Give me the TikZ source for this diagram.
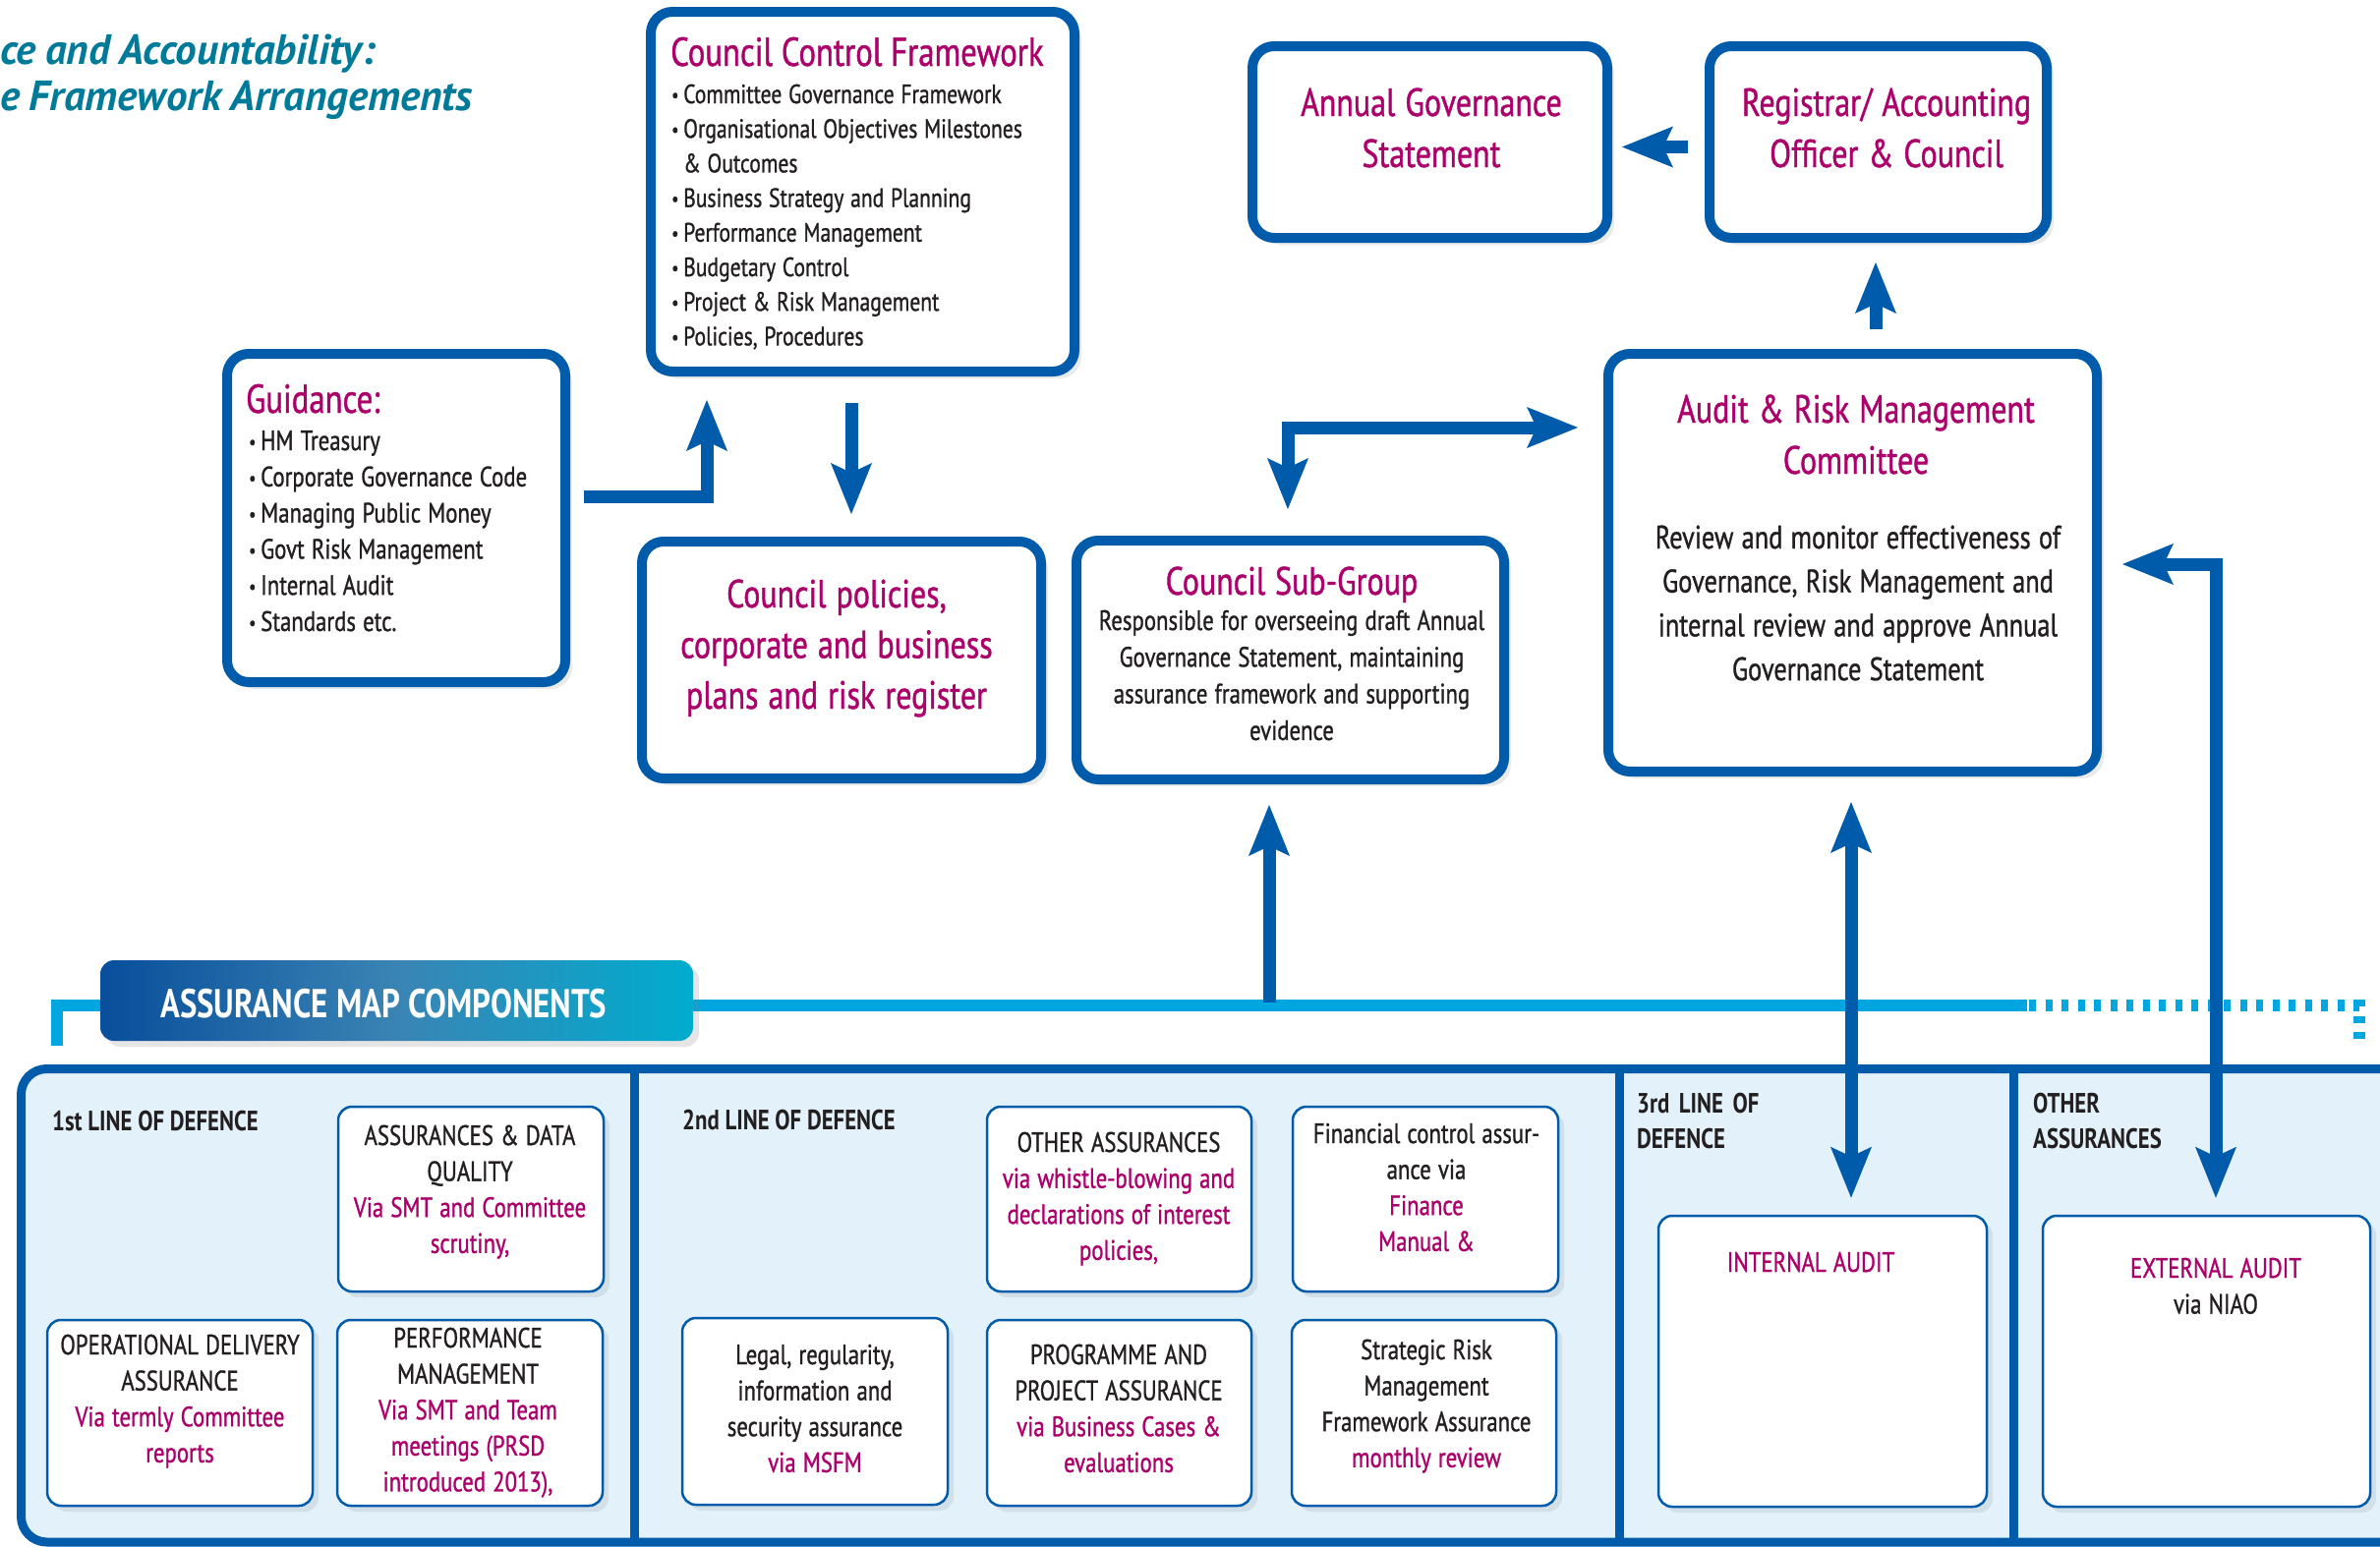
\documentclass[tikz,border=0pt]{standalone}
\usepackage{fontspec}
\setmainfont{PT Sans}[FakeStretch=0.8,UprightFeatures={FakeBold=1.0}]
\newfontfamily\titlefont{PT Sans}[WordSpace=0.85]
\usetikzlibrary{arrows.meta,calc,shadows}
\definecolor{boxblue}{RGB}{0,91,170}
\definecolor{mag}{RGB}{172,0,106}
\definecolor{ink}{RGB}{35,31,32}
\definecolor{skyblue}{RGB}{0,166,224}
\definecolor{panelfill}{RGB}{227,242,250}
\definecolor{titleteal}{RGB}{0,122,153}
\definecolor{banL}{RGB}{8,78,155}
\definecolor{banM}{RGB}{58,132,180}
\definecolor{banR}{RGB}{0,172,206}
\newcommand\bul{\makebox[12pt][l]{\raisebox{1.5pt}{\fontsize{20}{20}\selectfont\textbullet}}}
\newcommand\tsp{\spaceskip=0.25em\relax\xspaceskip=0.28em\relax}
\begin{document}
\begin{tikzpicture}[x=1pt,y=-1pt,
  bigbox/.style={draw=boxblue,line width=10pt,rounded corners=22pt,fill=white,inner sep=0pt,
    drop shadow={shadow xshift=7pt,shadow yshift=-7pt,opacity=0.16}},
  smallbox/.style={draw=boxblue,line width=2.5pt,rounded corners=14pt,fill=white,inner sep=0pt,
    drop shadow={shadow xshift=6pt,shadow yshift=-6pt,opacity=0.16}},
  arr/.style={draw=boxblue,line width=13pt,-{Stealth[length=52pt,width=42pt,inset=10pt,line width=0pt]}},
  twoarr/.style={draw=boxblue,line width=13pt,{Stealth[length=52pt,width=42pt,inset=10pt,line width=0pt]}-{Stealth[length=52pt,width=42pt,inset=10pt,line width=0pt]}},
  skyln/.style={draw=skyblue,line width=12pt},
  divider/.style={draw=boxblue,line width=9pt},
  ttl/.style={text=mag,font=\fontsize{40}{52}\selectfont,align=center,anchor=base,inner sep=0pt},
  bodytxt/.style={text=ink,align=center,anchor=base,inner sep=0pt},
  smalltxt/.style={text=ink,align=center,anchor=base,inner sep=0pt,font=\fontsize{28.5}{36.6}\selectfont},
  hdr/.style={text=ink,align=left,anchor=base west,inner sep=0pt,font=\fontsize{28.5}{36}\selectfont\bfseries}
]
\useasboundingbox (0,0) rectangle (2421,1574);
\clip (0,0) rectangle (2421,1574);
\fill[white] (0,0) rectangle (2421,1574);

% title
\node[anchor=base west,inner sep=0pt,text=titleteal,font=\fontsize{43}{47}\titlefont\bfseries\itshape] (t1) at (0,65) {ce and Accountability:};
\node[anchor=base west,inner sep=0pt,text=titleteal,font=\fontsize{43}{47}\titlefont\bfseries\itshape] (t2) at (0,112) {e Framework Arrangements};

% upper boxes
\node[bigbox,minimum width=431pt,minimum height=366pt] (ccf) at (877.5,195) {};
\node[bigbox,minimum width=361pt,minimum height=195pt] (ann) at (1454.5,144.5) {};
\node[bigbox,minimum width=343pt,minimum height=195pt] (reg) at (1910.5,144.5) {};
\node[bigbox,minimum width=497pt,minimum height=425pt] (aud) at (1884.5,572.5) {};
\node[bigbox,minimum width=435pt,minimum height=243pt] (sub) at (1312.5,671.5) {};
\node[bigbox,minimum width=406pt,minimum height=241pt] (pol) at (856,671.5) {};
\node[bigbox,minimum width=344pt,minimum height=334pt] (guid) at (403,527) {};

% texts upper
\node[anchor=base west,inner sep=0pt,text=mag,font=\fontsize{41}{42}\selectfont] (ccfT) at (682,67) {Council Control Framework};
\node[anchor=base west,inner sep=0pt,text=ink,text width=400pt,align=left,font=\fontsize{27}{35.2}\selectfont] (ccfL) at (683,105)
 {\tsp\bul Committee Governance Framework\\
  \bul Organisational Objectives Milestones\\
  \hspace*{12pt}\& Outcomes\\
  \bul Business Strategy and Planning\\
  \bul Performance Management\\
  \bul Budgetary Control\\
  \bul Project \& Risk Management\\
  \bul Policies, Procedures};
\node[ttl,text width=350pt] (annT) at (1456,118) {\tsp Annual Governance\\Statement};
\node[ttl,text width=335pt] (regT) at (1919,118) {\tsp Registrar/ Accounting\\Officer \& Council};
\node[ttl,text width=480pt] (audT) at (1888,430) {\tsp Audit \& Risk Management\\Committee};
\node[bodytxt,text width=480pt,font=\fontsize{33}{44.7}\selectfont] (audB) at (1890,558)
 {\tsp Review and monitor effectiveness of\\Governance, Risk Management and\\internal review and approve Annual\\Governance Statement};
\node[ttl,text width=420pt] (subT) at (1314,605) {\tsp Council Sub-Group};
\node[bodytxt,text width=425pt,font=\fontsize{28.5}{37.3}\selectfont] (subB) at (1314,641)
 {\tsp Responsible for overseeing draft Annual\\Governance Statement, maintaining\\assurance framework and supporting\\evidence};
\node[ttl,text width=395pt,font=\fontsize{40}{51.5}\selectfont] (polT) at (851,618) {\tsp Council policies,\\corporate and business\\plans and risk register};
\node[anchor=base west,inner sep=0pt,text=mag,font=\fontsize{41}{42}\selectfont] (guidT) at (250,420) {Guidance:};
\node[anchor=base west,inner sep=0pt,text=ink,text width=320pt,align=left,font=\fontsize{28.5}{36.8}\selectfont] (guidL) at (253,458)
 {\tsp\bul HM Treasury\\
  \bul Corporate Governance Code\\
  \bul Managing Public Money\\
  \bul Govt Risk Management\\
  \bul Internal Audit\\
  \bul Standards etc.};

% assurance line and banner
\draw[skyln] (58,1064) -- (58,1023) -- (2062,1023);
\draw[skyln,dash pattern=on 7pt off 9.5pt] (2064,1023) -- (2400,1023) -- (2400,1066);
\node[minimum width=603pt,minimum height=82pt,rounded corners=14pt,inner sep=0pt,
  left color=banL,right color=banR,middle color=banM,
  drop shadow={shadow xshift=6pt,shadow yshift=-6pt,opacity=0.2}] (ban) at (403.5,1018) {};
\node[anchor=base west,inner sep=0pt,text=white,font=\fontsize{41}{44}\selectfont\bfseries] (banT) at (163,1035) {ASSURANCE MAP COMPONENTS};

% panel
\node[draw=boxblue,fill=panelfill,line width=9pt,rounded corners=26pt,inner sep=0pt,
  minimum width=2428.5pt,minimum height=481.5pt] (panel) at (1235.75,1328.25) {};
\draw[divider] (645,1087.5) -- (645,1569);
\draw[divider] (1647,1087.5) -- (1647,1569);
\draw[divider] (2048,1087.5) -- (2048,1569);

\node[hdr] (h1) at (53,1150) {1st LINE OF DEFENCE};
\node[hdr] (h2) at (694,1149) {2nd LINE OF DEFENCE};
\node[hdr,text width=220pt] (h3) at (1665,1132) {3rd LINE OF\\DEFENCE};
\node[hdr,text width=220pt] (h4) at (2068,1132) {OTHER\\ASSURANCES};

% small boxes
\node[smallbox,minimum width=270pt,minimum height=188pt] (adq) at (479,1220) {};
\node[smallbox,minimum width=270pt,minimum height=189pt] (odq) at (183,1437.5) {};
\node[smallbox,minimum width=270pt,minimum height=189pt] (perf) at (478,1437.5) {};
\node[smallbox,minimum width=269pt,minimum height=188pt] (oth) at (1138.5,1220) {};
\node[smallbox,minimum width=270pt,minimum height=188pt] (fin) at (1450,1220) {};
\node[smallbox,minimum width=270pt,minimum height=190pt] (leg) at (829,1436) {};
\node[smallbox,minimum width=269pt,minimum height=189pt] (prog) at (1138.5,1437.5) {};
\node[smallbox,minimum width=269pt,minimum height=189pt] (strat) at (1448.5,1437.5) {};
\node[smallbox,minimum width=334pt,minimum height=296pt] (ia) at (1854,1385) {};
\node[smallbox,minimum width=333pt,minimum height=296pt] (ea) at (2244.5,1385) {};

\node[smalltxt,text width=268pt] (adqT) at (478,1165) {\tsp ASSURANCES \& DATA\\QUALITY\\\color{mag}Via SMT and Committee\\scrutiny,};
\node[smalltxt,text width=268pt] (odqT) at (183,1378) {\tsp OPERATIONAL DELIVERY\\ASSURANCE\\\color{mag}Via termly Committee\\reports};
\node[smalltxt,text width=268pt] (perfT) at (476,1371) {\tsp PERFORMANCE\\MANAGEMENT\\\color{mag}Via SMT and Team\\meetings (PRSD\\introduced 2013),};
\node[smalltxt,text width=268pt] (othT) at (1138,1172) {\tsp OTHER ASSURANCES\\\color{mag}via whistle-blowing and\\declarations of interest\\policies,};
\node[smalltxt,text width=268pt] (finT) at (1451,1163) {\tsp Financial control assur-\\ance via\\\color{mag}Finance\\Manual \&};
\node[smalltxt,text width=268pt] (legT) at (829,1388) {\tsp Legal, regularity,\\information and\\security assurance\\\color{mag}via MSFM};
\node[smalltxt,text width=268pt] (progT) at (1138,1388) {\tsp PROGRAMME AND\\PROJECT ASSURANCE\\\color{mag}via Business Cases \&\\evaluations};
\node[smalltxt,text width=268pt] (stratT) at (1451,1383) {\tsp Strategic Risk\\Management\\Framework Assurance\\\color{mag}monthly review};
\node[smalltxt,text width=300pt,text=mag] (iaT) at (1842,1294) {\tsp INTERNAL AUDIT};
\node[smalltxt,text width=300pt] (eaT) at (2254,1300) {\tsp\textcolor{mag}{EXTERNAL AUDIT}\\via NIAO};

% connectors
\draw[arr] ($(reg.west)+(-17,5)$) -- ($(ann.east)+(10,5)$);
\draw[arr] ($(aud.north)+(23.5,-20)$) -- ($(reg.south)+(-2.5,20)$);
\draw[arr] ($(guid.east)+(14,-22)$) -| ($(ccf.south)+(-158.5,24)$);
\draw[arr] ($(ccf.south)+(-11.5,27)$) -- ($(pol.north)+(10,-23)$);
\draw[twoarr] ($(sub.north)+(-2.5,-27)$) |- ($(aud.west)+(-26,-137.5)$);
\coordinate (lineS) at (1291,1020);
\draw[arr] (lineS) -- ($(sub.south)+(-21.5,21)$);
\draw[twoarr] ($(aud.south)+(-1.5,26)$) -- ($(ia.north)+(29,-17)$);
\draw[twoarr] ($(ea.north)+(9.5,-17)$) |- ($(aud.east)+(21,1.5)$);
\end{tikzpicture}
\end{document}
